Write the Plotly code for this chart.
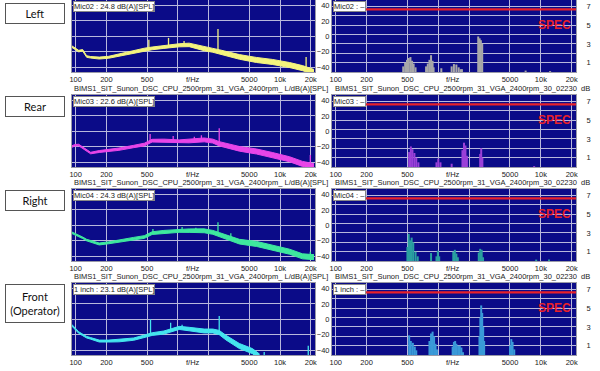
import plotly.graph_objects as go
import math

W, H = 600, 371

# ---------------- data ----------------
row_labels = ["Left", "Rear", "Right", "Front<br>(Operator)"]
mic_names = ["Mic02", "Mic03", "Mic04", "1 inch"]
mic_levels = [24.8, 22.6, 24.3, 23.1]
title_left = "BIMS1_SIT_Sunon_DSC_CPU_2500rpm_31_VGA_2400rpm_ L/dB(A)[SPL]"
title_right = "BIMS1_SIT_Sunon_DSC_CPU_2500rpm_31_VGA_2400rpm_30_02230  dB"

x_tick_vals = [100, 200, 500, 1000, 2000, 5000, 10000, 20000]
x_tick_text = ["100", "200", "500", "", "", "5000", "10k", "20k"]
db_ticks = [40, 20, 0, -20, -40]
ratio_ticks = [1, 2, 3, 4, 5, 6, 7]
ratio_tick_text = ["1", "", "3", "", "5", "", "7"]
spec_limit = 6.7
spec_start_hz = 160

# Mic02 (Left) spectrum band
freq_m02 = [90, 98, 107, 117, 128, 140, 170, 210, 265, 370, 470, 560, 730, 1030, 1290, 1810, 2200, 2540, 4000, 5900, 8400, 12400, 16600, 21500]
level_m02 = [-12.5, -16, -19, -18, -26, -27, -28, -27, -24, -20, -17, -15.5, -13.5, -11.5, -11, -16, -18, -20, -26.5, -30.5, -33, -37, -41, -46]
spread_m02 = [2, 2, 2, 2, 2, 2, 2.5, 2.5, 3, 3, 3.5, 3.5, 4, 4, 4.5, 5, 5, 5.5, 6, 6.5, 6.5, 6.5, 6.5, 6.5]
spike_f_m02 = [520, 810, 1150, 2470, 18000]
spike_base_m02 = [-16, -13, -11, -19, -42]
spike_top_m02 = [-4.5, -2, -6, 9.5, -26.5]
tone_f_m02 = [455, 475, 495, 515, 535, 555, 575, 600, 760, 790, 820, 850, 880, 900, 1070, 1350, 1420, 1500, 1580, 1650, 1700, 2450, 2530, 2600, 2680, 7100, 12300]
tone_v_m02 = [0.6, 1.0, 1.3, 1.5, 1.6, 1.2, 0.9, 0.5, 0.6, 0.9, 1.3, 1.8, 1.2, 0.5, 0.4, 0.6, 0.85, 0.8, 0.5, 0.3, 0.3, 3.8, 3.6, 3.4, 3.0, 0.15, 0.1]

# Mic03 (Rear)
freq_m03 = [90, 98, 107, 117, 128, 140, 170, 210, 265, 370, 470, 560, 730, 1030, 1290, 1810, 2200, 2540, 4000, 5900, 8400, 12400, 16600, 21500]
level_m03 = [-20, -18, -17.6, -21, -25, -28, -26, -24.5, -23, -19.5, -17, -12, -12, -13, -12.5, -11, -12.5, -16, -22.5, -26, -30.5, -36, -42, -45]
spread_m03 = [2, 2, 2, 2, 2, 2, 2.5, 2.5, 3, 3, 3.5, 3.5, 4, 4, 4.5, 5, 5, 5.5, 6, 6.5, 6.5, 6.5, 6.5, 6.5]
spike_f_m03 = [535, 900, 1450, 1700, 2540, 19800]
spike_base_m03 = [-12, -12, -12, -11, -16, -44]
spike_top_m03 = [-3.4, -6, -7, -5, 4, -30.5]
tone_f_m03 = [520, 540, 560, 585, 610, 640, 960, 1000, 1050, 1350, 1720, 1780, 1840, 1900, 2560, 2620, 2690, 8600]
tone_v_m03 = [1.6, 2.2, 1.9, 1.5, 1.0, 0.5, 0.5, 0.9, 0.5, 0.35, 1.8, 2.6, 2.3, 1.2, 1.4, 2.0, 1.0, 0.1]

# Mic04 (Right)
freq_m04 = [90, 98, 107, 117, 128, 140, 170, 210, 265, 370, 470, 560, 730, 1030, 1290, 1810, 2200, 2540, 4000, 5900, 8400, 12400, 16600, 21500]
level_m04 = [-9, -11, -13.3, -16, -19, -20.5, -24, -22.5, -20, -17, -15, -10, -8.5, -7, -6.8, -7, -9, -12, -21, -24, -28.5, -34, -40, -41]
spread_m04 = [2, 2, 2, 2, 2, 2, 2.5, 2.5, 3, 3, 3.5, 3.5, 4, 4, 4.5, 5, 5, 5.5, 6, 6.5, 6.5, 6.5, 6.5, 6.5]
spike_f_m04 = [570, 1100, 1500, 2470, 3300, 19800]
spike_base_m04 = [-10, -7, -7, -11, -17, -40]
spike_top_m04 = [-4.7, -2, -3, 4, -10, -34]
tone_f_m04 = [500, 515, 530, 550, 570, 600, 630, 850, 960, 990, 1020, 1400, 1450, 1500, 1550, 2480, 2560, 2650, 2730, 9000, 12000]
tone_v_m04 = [1.5, 2.9, 2.2, 2.5, 2.0, 1.0, 0.5, 0.85, 0.5, 1.1, 0.5, 1.0, 1.2, 0.8, 0.4, 0.9, 1.3, 1.2, 0.4, 0.15, 0.15]

# 1 inch (Front / Operator)
freq_m1 = [90, 98, 107, 117, 128, 140, 170, 210, 265, 370, 470, 560, 730, 1030, 1290, 1810, 2200, 2540, 2960, 4000, 5370, 6300]
level_m1 = [-6.5, -12, -17, -20, -23, -24.5, -28, -28, -27.5, -25.5, -22, -19, -17, -11, -12.5, -15, -15, -17, -23.6, -34.4, -41, -48]
spread_m1 = [2, 2, 2, 2, 2, 2, 2.5, 2.5, 3, 3, 3.5, 3.5, 4, 4, 4.5, 5, 5, 5.5, 6, 6.5, 6.5, 6.5]
spike_f_m1 = [540, 850, 1100, 2540, 7000, 18900]
spike_base_m1 = [-19, -16, -11, -17, -47, -47]
spike_top_m1 = [0, -4.3, -7, 4.4, -42, -34]
tone_f_m1 = [520, 540, 565, 590, 610, 820, 850, 880, 910, 940, 970, 1380, 1420, 1460, 1500, 1560, 1620, 1680, 1740, 2520, 2570, 2620, 2680, 2740, 2800, 5000, 5150, 5300, 5500]
tone_v_m1 = [2.1, 1.5, 1.3, 0.9, 0.5, 1.5, 2.3, 2.5, 2.0, 1.2, 0.6, 0.9, 1.4, 1.5, 1.2, 1.0, 1.0, 0.8, 0.3, 2.0, 4.0, 5.3, 4.5, 3.0, 1.5, 1.0, 1.7, 1.4, 0.6]

rows = [
    (freq_m02, level_m02, spread_m02, spike_f_m02, spike_base_m02, spike_top_m02, tone_f_m02, tone_v_m02),
    (freq_m03, level_m03, spread_m03, spike_f_m03, spike_base_m03, spike_top_m03, tone_f_m03, tone_v_m03),
    (freq_m04, level_m04, spread_m04, spike_f_m04, spike_base_m04, spike_top_m04, tone_f_m04, tone_v_m04),
    (freq_m1, level_m1, spread_m1, spike_f_m1, spike_base_m1, spike_top_m1, tone_f_m1, tone_v_m1),
]

# ---------------- style ----------------
curve_colors = ["#f4f47e", "#e845e8", "#3ee89e", "#44e4ee"]
tone_colors = ["#a8a8a8", "#9a40d8", "#2aa0a0", "#3a9ad8"]
BG = "#0b0b88"
GRID = "#b8b8dc"
TXT = "#222222"
FONT = "Liberation Sans"
row_tops = [0, 95, 189, 283]
row_h = 72
L_X0, L_X1 = 72, 315
R_X0, R_X1 = 332, 576
X_RANGE = [math.log10(92), math.log10(22000)]
DB_RANGE = [-46, 47]
RATIO_RANGE = [0, 7.7]


def px(x):
    return x / W


def py(y):
    return 1 - y / H


fig = go.Figure()
layout = {}
annotations = []
shapes = []

for i, (fr, lv, sp, sf, sb, st, tf, tv) in enumerate(rows):
    top, bot = row_tops[i], row_tops[i] + row_h
    ydom = [py(bot), py(top)]
    xl, xr = 2 * i + 1, 2 * i + 2
    yl, yr_db, yr_ratio = 3 * i + 1, 3 * i + 2, 3 * i + 3
    col = curve_colors[i]

    common_x = dict(type="log", range=X_RANGE, tickvals=x_tick_vals, ticktext=x_tick_text,
                    showgrid=True, gridcolor=GRID, gridwidth=1, zeroline=False, automargin=False,
                    showline=True, linecolor="#9a9aa8", mirror=True, ticks="",
                    tickfont=dict(family=FONT, size=7.5, color=TXT))
    layout[f"xaxis{xl}"] = dict(common_x, domain=[px(L_X0), px(L_X1)], anchor=f"y{yl}")
    layout[f"xaxis{xr}"] = dict(common_x, domain=[px(R_X0), px(R_X1)], anchor=f"y{yr_db}")

    layout[f"yaxis{yl}"] = dict(domain=ydom, range=DB_RANGE, anchor=f"x{xl}", tickvals=db_ticks,
                                showticklabels=False, showgrid=True, gridcolor=GRID, zeroline=False,
                                showline=True, linecolor="#9a9aa8", mirror=True, ticks="",
                                automargin=False)
    layout[f"yaxis{yr_db}"] = dict(domain=ydom, range=DB_RANGE, anchor=f"x{xr}", tickvals=db_ticks,
                                   showgrid=False, zeroline=False, showline=True, linecolor="#9a9aa8",
                                   mirror=True, ticks="", side="left", automargin=False,
                                   tickfont=dict(family=FONT, size=7.5, color=TXT))
    layout[f"yaxis{yr_ratio}"] = dict(range=RATIO_RANGE, anchor=f"x{xr}", overlaying=f"y{yr_db}",
                                      side="right", tickvals=ratio_ticks, ticktext=ratio_tick_text,
                                      showgrid=True, gridcolor=GRID, zeroline=False, ticks="outside",
                                      ticklen=8, tickcolor="rgba(0,0,0,0)", automargin=False,
                                      tickfont=dict(family=FONT, size=7.5, color=TXT))

    # plot backgrounds
    for x0, x1 in [(L_X0, L_X1), (R_X0, R_X1)]:
        shapes.append(dict(type="rect", xref="paper", yref="paper", x0=px(x0), x1=px(x1),
                           y0=py(bot), y1=py(top), fillcolor=BG, line=dict(width=0), layer="below"))

    # spectrum band: lower edge then upper edge filled
    lo = [l - s / 2 for l, s in zip(lv, sp)]
    hi = [l + s / 2 for l, s in zip(lv, sp)]
    fig.add_trace(go.Scatter(x=fr, y=lo, mode="lines", line=dict(color=col, width=1),
                             xaxis=f"x{xl}", yaxis=f"y{yl}", showlegend=False, hoverinfo="skip"))
    fig.add_trace(go.Scatter(x=fr, y=hi, mode="lines", line=dict(color=col, width=1), fill="tonexty",
                             fillcolor=col, xaxis=f"x{xl}", yaxis=f"y{yl}", showlegend=False,
                             hoverinfo="skip"))
    # spikes
    sx, sy = [], []
    for f, b, t in zip(sf, sb, st):
        sx += [f, f, None]
        sy += [b, t, None]
    fig.add_trace(go.Scatter(x=sx, y=sy, mode="lines", line=dict(color=col, width=1.3),
                             xaxis=f"x{xl}", yaxis=f"y{yl}", showlegend=False, hoverinfo="skip"))

    # right panel: empty dB trace to register axis
    fig.add_trace(go.Scatter(x=[], y=[], xaxis=f"x{xr}", yaxis=f"y{yr_db}", showlegend=False))
    # tonal bars
    bx, by = [], []
    for f, v in zip(tf, tv):
        bx += [f, f, None]
        by += [0, v, None]
    fig.add_trace(go.Scatter(x=bx, y=by, mode="lines", line=dict(color=tone_colors[i], width=2),
                             xaxis=f"x{xr}", yaxis=f"y{yr_ratio}", showlegend=False, hoverinfo="skip"))
    # spec line
    fig.add_trace(go.Scatter(x=[spec_start_hz, 10 ** X_RANGE[1]], y=[spec_limit, spec_limit],
                             mode="lines", line=dict(color="#e8202a", width=2.2),
                             xaxis=f"x{xr}", yaxis=f"y{yr_ratio}", showlegend=False, hoverinfo="skip"))

    # f/Hz labels
    for xa, ya in [(xl, yl), (xr, yr_db)]:
        annotations.append(dict(x=math.log10(1400), y=DB_RANGE[0], xref=f"x{xa}", yref=f"y{ya}",
                                text="f/Hz", showarrow=False, yanchor="top", yshift=-1,
                                font=dict(family=FONT, size=7.5, color=TXT)))

    # mic label boxes
    annotations.append(dict(x=px(L_X0 + 1), y=py(top + 1), xref="paper", yref="paper",
                            text=f"{mic_names[i]} : {mic_levels[i]} dB(A)[SPL]", showarrow=False,
                            xanchor="left", yanchor="top", bgcolor="white", bordercolor="#888",
                            borderwidth=1, borderpad=0, font=dict(family=FONT, size=7.5, color=TXT)))
    annotations.append(dict(x=px(R_X0 + 1), y=py(top + 1), xref="paper", yref="paper",
                            text=f"{mic_names[i]} : \u2013", showarrow=False,
                            xanchor="left", yanchor="top", bgcolor="white", bordercolor="#888",
                            borderwidth=1, borderpad=0, font=dict(family=FONT, size=7.5, color=TXT)))
    # SPEC text
    annotations.append(dict(x=px(R_X1 - 3), y=py(top + 25), xref="paper", yref="paper",
                            text="<b>SPEC</b>", showarrow=False, xanchor="right", yanchor="middle",
                            font=dict(family=FONT, size=12, color="#e8202a")))
    # row label boxes
    box_h = 37 if i == 3 else 19
    annotations.append(dict(x=px(5), y=py(top + 3 if i == 0 else top + 1), xref="paper", yref="paper",
                            text=row_labels[i], showarrow=False, xanchor="left", yanchor="top",
                            width=58, height=box_h, bgcolor="white", bordercolor="#555",
                            borderwidth=1, borderpad=0, align="center", valign="middle",
                            font=dict(family="Lato", size=11, color="#111")))

    # titles between rows
    if i > 0:
        annotations.append(dict(x=px(L_X0), y=py(top - 7), xref="paper", yref="paper",
                                text=title_left, showarrow=False, xanchor="left", yanchor="middle",
                                font=dict(family=FONT, size=7.5, color=TXT)))
        annotations.append(dict(x=px(R_X0 + 1), y=py(top - 7), xref="paper", yref="paper",
                                text=title_right, showarrow=False, xanchor="left", yanchor="middle",
                                font=dict(family=FONT, size=7.5, color=TXT)))

fig.update_layout(width=W, height=H, margin=dict(l=0, r=0, t=0, b=0), paper_bgcolor="white",
                  plot_bgcolor="rgba(0,0,0,0)", showlegend=False, annotations=annotations,
                  shapes=shapes, **layout)

fig.write_html("out.html", config={"displayModeBar": False},
               post_script="document.body.style.margin='0';")
